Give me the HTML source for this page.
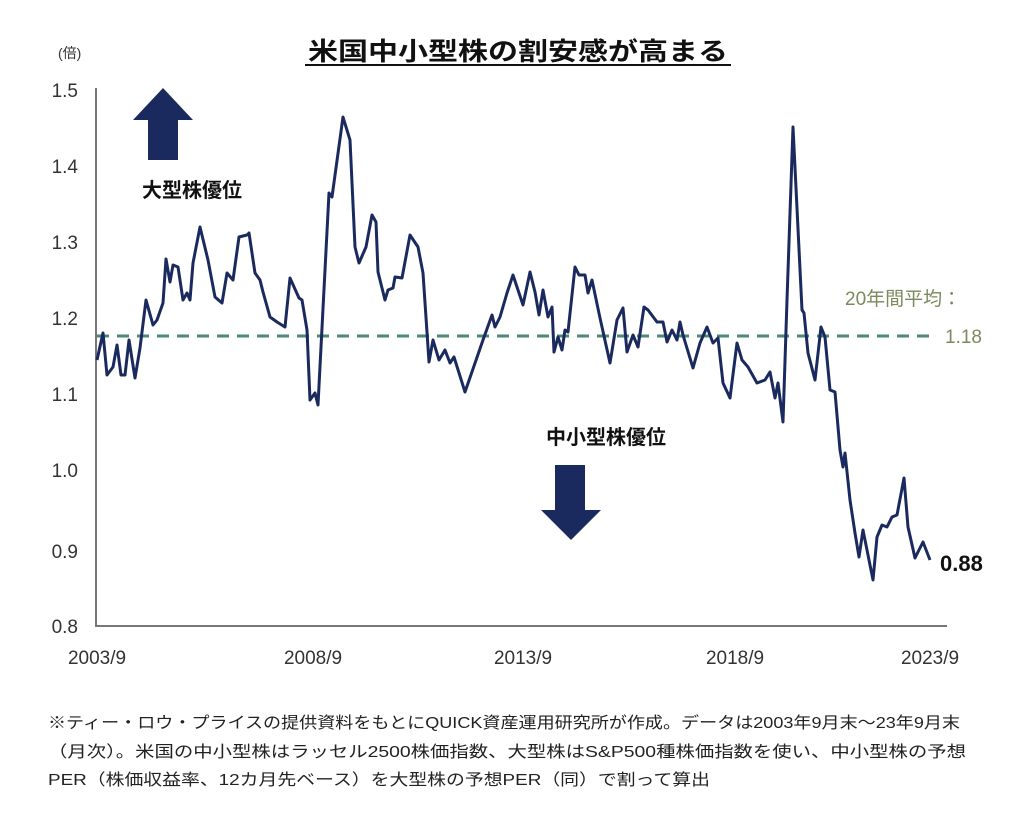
<!DOCTYPE html>
<html><head><meta charset="utf-8"><style>
body{margin:0;background:#fff;}
svg{display:block;font-family:"Liberation Sans","Noto Sans CJK JP",sans-serif;}
</style></head><body>
<svg width="1024" height="821" viewBox="0 0 1024 821">
<text x="518" y="60" font-size="25" font-weight="bold" text-anchor="middle" fill="#111" textLength="420" lengthAdjust="spacingAndGlyphs">米国中小型株の割安感が高まる</text>
<line x1="305" y1="65" x2="731" y2="65" stroke="#111" stroke-width="2"/>
<text x="58" y="58" font-size="14" fill="#333">(倍)</text>
<g font-size="19" fill="#333" text-anchor="end">
<text x="78" y="97">1.5</text><text x="78" y="173">1.4</text><text x="78" y="249">1.3</text><text x="78" y="325">1.2</text><text x="78" y="401">1.1</text><text x="78" y="477">1.0</text><text x="78" y="558">0.9</text><text x="78" y="633">0.8</text>
</g>
<line x1="96" y1="88" x2="96" y2="627" stroke="#777" stroke-width="2"/>
<line x1="95" y1="626" x2="947" y2="626" stroke="#777" stroke-width="2"/>
<g font-size="19" fill="#333" text-anchor="middle">
<text x="97" y="664">2003/9</text><text x="313" y="664">2008/9</text><text x="523" y="664">2013/9</text><text x="735" y="664">2018/9</text><text x="930" y="664">2023/9</text>
</g>
<line x1="97" y1="336" x2="932" y2="336" stroke="#4a8a76" stroke-width="3" stroke-dasharray="12,8"/>
<text x="845" y="305" font-size="19" fill="#7b8a5c">20年間平均：</text>
<text x="945" y="343" font-size="19" fill="#7b8a5c">1.18</text>
<polyline fill="none" stroke="#1b2a5e" stroke-width="3" stroke-linejoin="round" points="97,360 103,333 107,375 113,367 117,345 121,375 125,375 129,340 135,378 140,348 146,300 153,325 157,320 163,303 166,259 170,282 173,265 178,267 183,300 187,293 190,300 193,263 200,227 208,260 215,297 222,303 227,273 233,280 239,237 247,235 249,233 255,273 260,280 263,292 270,317 277,322 285,327 290,278 299,298 302,300 307,330 310,400 315,393 318,405 329,193 332,197 343,117 350,140 355,247 359,263 366,247 372,215 376,222 378,272 385,300 388,290 393,288 395,277 402,278 410,235 418,247 423,273 429,362 433,340 439,360 445,350 450,363 454,357 465,392 483,340 492,315 495,327 500,317 507,293 513,275 523,305 530,272 535,292 539,315 543,290 548,317 552,307 554,352 558,337 562,350 565,330 568,332 575,267 579,275 585,275 588,293 592,280 600,318 610,363 617,320 623,308 627,352 633,335 638,347 644,307 648,310 657,322 663,322 667,342 672,330 677,340 680,322 683,335 693,368 700,343 707,327 713,343 718,338 723,383 730,398 737,343 742,360 748,367 757,383 765,380 770,372 775,398 778,383 783,422 787,300 793,127 802,310 804,313 808,353 815,380 821,327 825,337 830,390 835,392 840,450 843,467 845,453 850,500 855,533 859,557 863,530 873,580 877,537 882,525 887,527 892,517 897,515 904,478 908,527 915,558 923,542 930,560"/>
<text x="940" y="571" font-size="22" font-weight="bold" fill="#111">0.88</text>
<polygon points="163,88 193,120 178,120 178,160 148,160 148,120 133,120" fill="#1b2a5e"/>
<polygon points="555,465 585,465 585,510 601,510 571,540 541,510 555,510" fill="#1b2a5e"/>
<text x="142" y="197" font-size="20" font-weight="bold" fill="#111">大型株優位</text>
<text x="546" y="444" font-size="20" font-weight="bold" fill="#111">中小型株優位</text>
<g font-size="16" fill="#222">
<text x="48" y="728" textLength="912" lengthAdjust="spacingAndGlyphs">※ティー・ロウ・プライスの提供資料をもとにQUICK資産運用研究所が作成。データは2003年9月末～23年9月末</text>
<text x="48" y="757" textLength="918" lengthAdjust="spacingAndGlyphs">（月次）。米国の中小型株はラッセル2500株価指数、大型株はS&amp;P500種株価指数を使い、中小型株の予想</text>
<text x="48" y="785" textLength="662" lengthAdjust="spacingAndGlyphs">PER（株価収益率、12カ月先ベース）を大型株の予想PER（同）で割って算出</text>
</g>
</svg>
</body></html>
